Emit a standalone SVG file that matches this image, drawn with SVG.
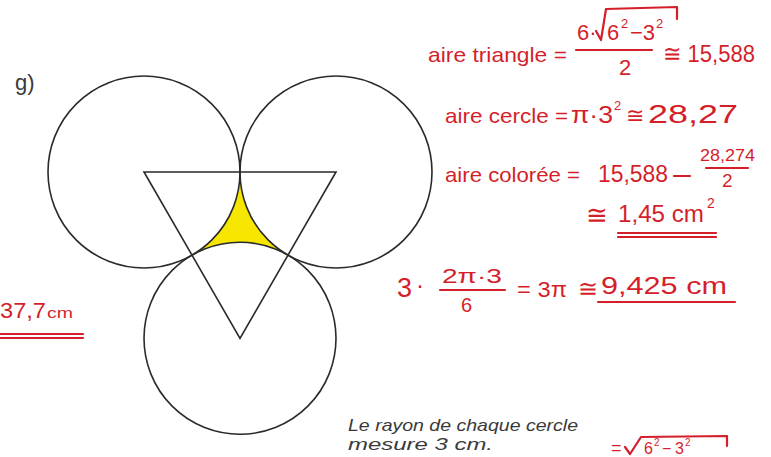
<svg xmlns="http://www.w3.org/2000/svg" width="771" height="457" viewBox="0 0 771 457">
<style>
.fig{fill:none;stroke:#2a2a2a;stroke-width:1.6}
.hw{fill:#d41f2b;font-family:"Liberation Sans",Arial,sans-serif}
.hl{stroke:#d41f2b;stroke-width:2.2;fill:none;stroke-linecap:round;stroke-linejoin:round}
.pr{fill:#3a3a3a;font-family:"Liberation Sans",Arial,sans-serif}
</style>
<rect width="771" height="457" fill="#ffffff"/>
<g id="shaded">
<path d="M240,172 A96,96 0 0 1 192,255.15 A96,96 0 0 1 288,255.15 A96,96 0 0 1 240,172 Z" fill="#f7e600"/>
</g>
<g id="triangle">
<polygon class="fig" points="144,172 336,172 240,338.3"/>
</g>
<g id="circles">
<circle id="circle-left" class="fig" cx="144" cy="172" r="96"/>
<circle id="circle-right" class="fig" cx="336" cy="172" r="96"/>
<circle id="circle-bottom" class="fig" cx="240" cy="338.3" r="96"/>
</g>
<g id="printed">
<text class="pr" x="15" y="90" font-size="22">g)</text>
<text class="pr" x="348" y="431" font-size="17" font-style="italic" textLength="230" lengthAdjust="spacingAndGlyphs">Le rayon de chaque cercle</text>
<text class="pr" x="348" y="450" font-size="17" font-style="italic" textLength="145" lengthAdjust="spacingAndGlyphs">mesure 3 cm.</text>
</g>
<g id="note-left">
<text class="hw" x="0" y="318" font-size="22" textLength="46" lengthAdjust="spacingAndGlyphs">37,7</text>
<text class="hw" x="47" y="318" font-size="14" textLength="26" lengthAdjust="spacingAndGlyphs">cm</text>
<line class="hl" x1="0" y1="334" x2="83" y2="334" stroke-width="1.6"/>
<line class="hl" x1="0" y1="338" x2="83" y2="338" stroke-width="1.6"/>
</g>
<g id="note-triangle">
<text class="hw" x="428" y="62" font-size="21" textLength="139" lengthAdjust="spacingAndGlyphs">aire triangle =</text>
<text class="hw" x="577" y="40" font-size="22">6·</text>
<path class="hl" d="M596,31 L601,40 L606,9 L677,7 L677,19"/>
<text class="hw" x="607" y="40" font-size="22">6</text>
<text class="hw" x="621" y="28" font-size="13">2</text>
<text class="hw" x="630" y="40" font-size="22">−3</text>
<text class="hw" x="656" y="28" font-size="13">2</text>
<line class="hl" x1="576" y1="50" x2="652" y2="50" stroke-width="2.6"/>
<text class="hw" x="619" y="75" font-size="22">2</text>
<text class="hw" x="663" y="62" font-size="24" textLength="92" lengthAdjust="spacingAndGlyphs">≅ 15,588</text>
</g>
<g id="note-circle">
<text class="hw" x="445" y="123" font-size="21" textLength="123" lengthAdjust="spacingAndGlyphs">aire cercle =</text>
<text class="hw" x="571" y="123" font-size="23" textLength="42" lengthAdjust="spacingAndGlyphs">π·3</text>
<text class="hw" x="614" y="110" font-size="13">2</text>
<text class="hw" x="626" y="123" font-size="22">≅</text>
<text class="hw" x="648" y="123" font-size="25" textLength="90" lengthAdjust="spacingAndGlyphs">28,27</text>
</g>
<g id="note-colored">
<text class="hw" x="445" y="182" font-size="21" textLength="135" lengthAdjust="spacingAndGlyphs">aire colorée =</text>
<text class="hw" x="598" y="182" font-size="24" textLength="70" lengthAdjust="spacingAndGlyphs">15,588</text>
<line class="hl" x1="674" y1="176" x2="690" y2="176"/>
<text class="hw" x="700" y="161" font-size="17" textLength="55" lengthAdjust="spacingAndGlyphs">28,274</text>
<line class="hl" x1="706" y1="168" x2="748" y2="168"/>
<text class="hw" x="722" y="187" font-size="19">2</text>
<text class="hw" x="586" y="224" font-size="26">≅</text>
<text class="hw" x="618" y="222" font-size="23" textLength="86" lengthAdjust="spacingAndGlyphs">1,45 cm</text>
<text class="hw" x="707" y="208" font-size="14">2</text>
<line class="hl" x1="618" y1="233" x2="716" y2="233" stroke-width="2"/>
<line class="hl" x1="618" y1="237" x2="716" y2="237" stroke-width="2"/>
</g>
<g id="note-perimeter">
<text class="hw" x="397" y="297" font-size="27">3</text>
<text class="hw" x="416" y="293" font-size="24">·</text>
<text class="hw" x="442" y="283" font-size="20" textLength="60" lengthAdjust="spacingAndGlyphs">2π·3</text>
<line class="hl" x1="440" y1="290" x2="505" y2="290"/>
<text class="hw" x="461" y="312" font-size="20">6</text>
<text class="hw" x="517" y="297" font-size="22" textLength="50" lengthAdjust="spacingAndGlyphs">= 3π</text>
<text class="hw" x="578" y="297" font-size="24">≅</text>
<text class="hw" x="601" y="294" font-size="23" textLength="126" lengthAdjust="spacingAndGlyphs">9,425 cm</text>
<line class="hl" x1="598" y1="302" x2="735" y2="302" stroke-width="2.8"/>
</g>
<g id="note-bottom">
<text class="hw" x="611" y="454" font-size="18">=</text>
<path class="hl" d="M625,447 L630,454 L641,437 L727,436 L727,446"/>
<text class="hw" x="644" y="454" font-size="16">6</text>
<text class="hw" x="654" y="446" font-size="10">2</text>
<text class="hw" x="662" y="454" font-size="16">−</text>
<text class="hw" x="675" y="454" font-size="16">3</text>
<text class="hw" x="685" y="446" font-size="10">2</text>
</g>
</svg>
